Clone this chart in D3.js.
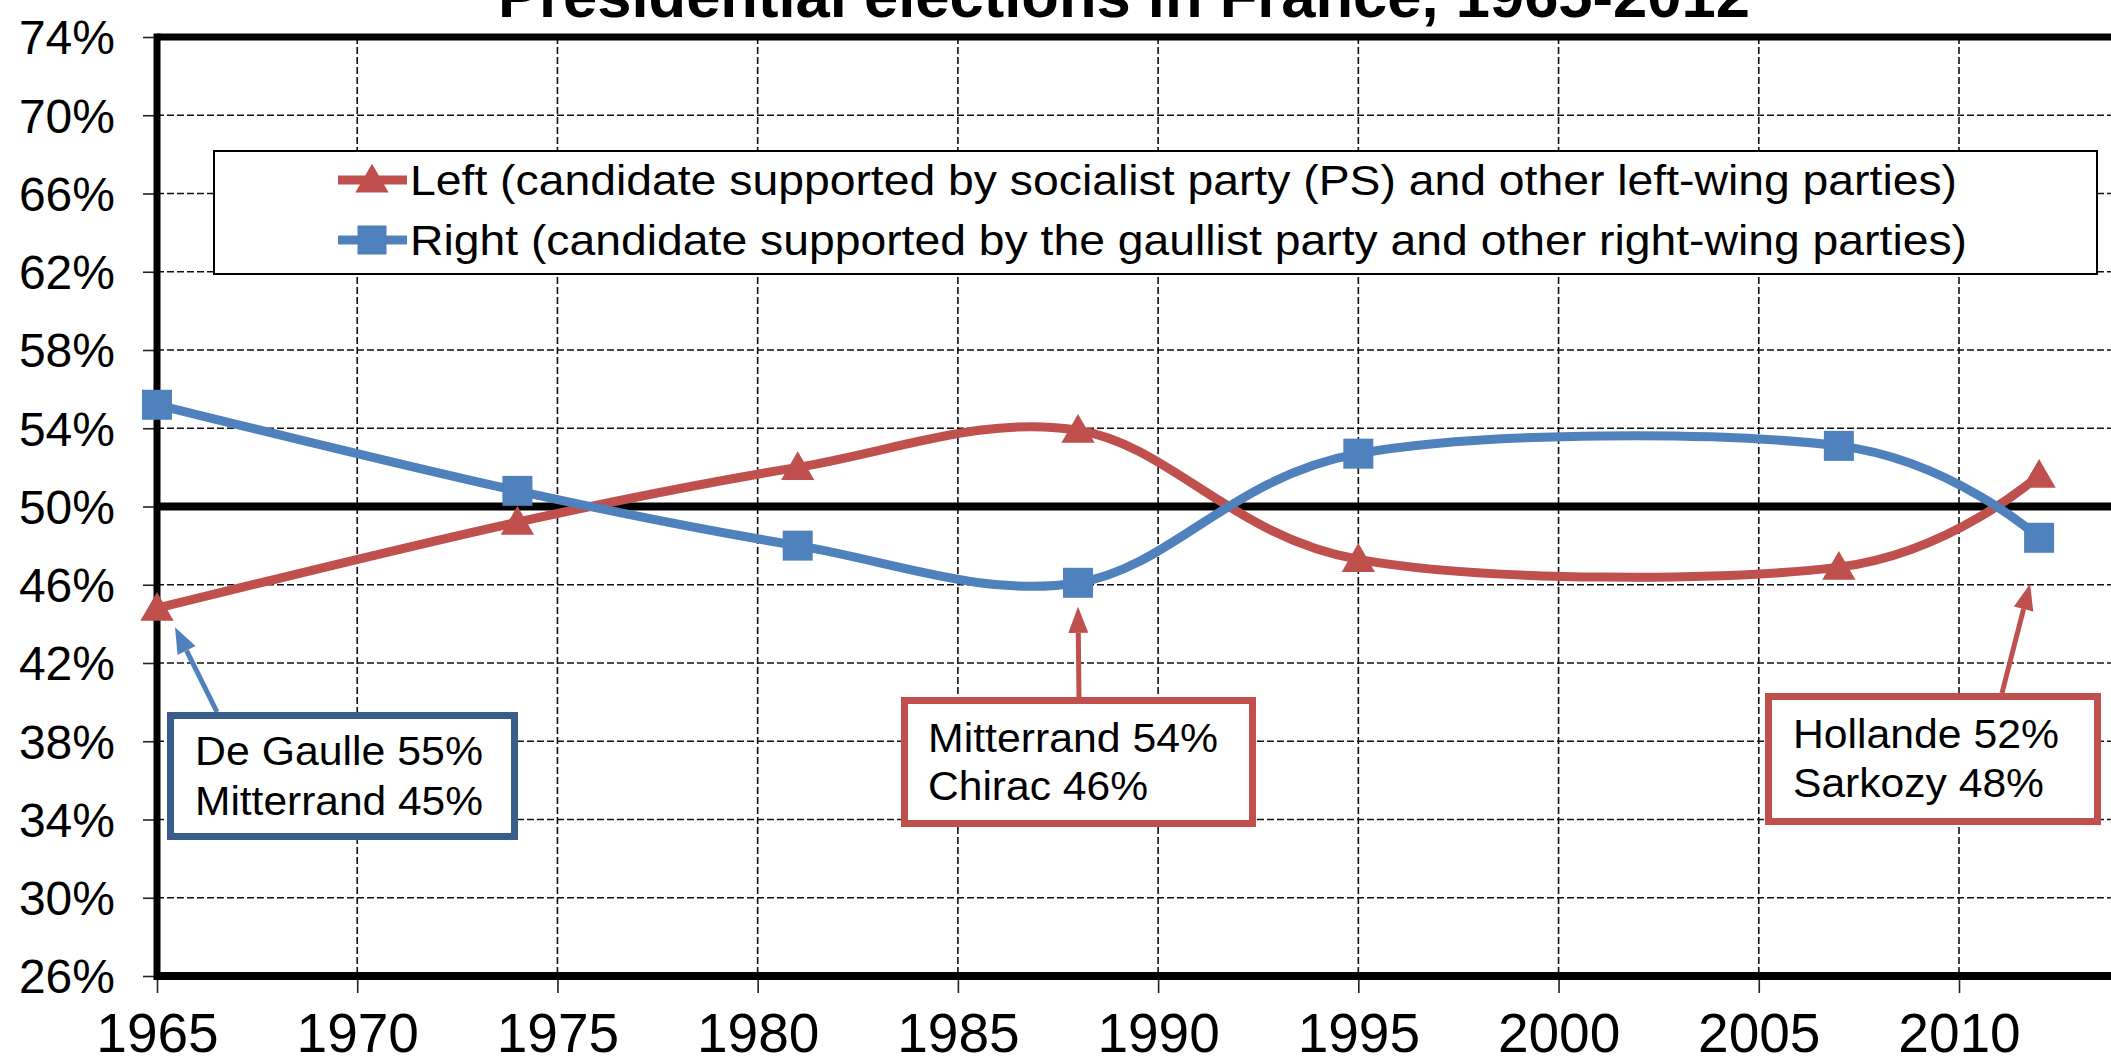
<!DOCTYPE html>
<html>
<head>
<meta charset="utf-8">
<script src="https://cdn.jsdelivr.net/npm/d3@7"></script>
<style>
  html, body { margin: 0; padding: 0; background: #fff; overflow: hidden; }
  svg { display: block; }
  text { font-family: "Liberation Sans", Arial, sans-serif; fill: #000; }
</style>
</head>
<body>
<script>
// ---------- data ----------
const years = [1965, 1974, 1981, 1988, 1995, 2007, 2012];
const leftShare = [44.8, 49.2, 52.0, 53.9, 47.3, 46.9, 51.6];
const rightShare = [55.2, 50.8, 48.0, 46.1, 52.7, 53.1, 48.4];
const seriesNames = [
  "Left (candidate supported by socialist party (PS) and other left-wing parties)",
  "Right (candidate supported by the gaullist party and other right-wing parties)"
];
const yTicks = [26, 30, 34, 38, 42, 46, 50, 54, 58, 62, 66, 70, 74];
const xTicks = [1965, 1970, 1975, 1980, 1985, 1990, 1995, 2000, 2005, 2010];
const titleText = "Presidential elections in France, 1965-2012";
const noteTexts = [
  ["De Gaulle 55%", "Mitterrand 45%"],
  ["Mitterrand 54%", "Chirac 46%"],
  ["Hollande 52%", "Sarkozy 48%"]
];
const noteYears = [1965, 1988, 2012];

// ---------- layout ----------
const W = 2111, H = 1064;
const RED = "#C0504D", BLUE = "#4F81BD", DARKBLUE = "#385D8A";

const svg = d3.select("body").append("svg").attr("width", W).attr("height", H);

const x = d3.scaleLinear().domain([1965, 2010]).range([157, 1959]);
const y = d3.scaleLinear().domain([26, 74]).range([976, 37]);

// grid
const grid = svg.append("g");
grid.selectAll(".hg").data(yTicks.filter(d => d !== 26 && d !== 74 && d !== 50)).join("line")
  .attr("x1", x(1965)).attr("x2", W)
  .attr("y1", d => y(d)).attr("y2", d => y(d))
  .attr("stroke", "#111").attr("stroke-width", 1.6).attr("stroke-dasharray", "7,3");
grid.selectAll(".vg").data(xTicks.filter(d => d !== 1965)).join("line")
  .attr("x1", d => x(d)).attr("x2", d => x(d))
  .attr("y1", y(74)).attr("y2", y(26))
  .attr("stroke", "#111").attr("stroke-width", 1.6).attr("stroke-dasharray", "7,3");

// axes (ticks + labels)
const yAxis = d3.axisLeft(y).tickValues(yTicks).tickSize(14).tickPadding(28).tickFormat(d => d + "%");
const gy = svg.append("g").attr("transform", `translate(${x(1965)},0)`).call(yAxis);
gy.select(".domain").remove();
gy.selectAll(".tick line").attr("stroke", "#222").attr("stroke-width", 1.6);
gy.selectAll(".tick text").attr("font-size", 48).attr("dy", "0.35em")
  .attr("font-family", '"Liberation Sans", Arial, sans-serif').attr("fill", "#000")
  .attr("x", -42);

const xAxis = d3.axisBottom(x).tickValues(xTicks).tickSize(17).tickPadding(0).tickFormat(d3.format("d"));
const gx = svg.append("g").attr("transform", `translate(0,${y(26)})`).call(xAxis);
gx.select(".domain").remove();
gx.selectAll(".tick line").attr("stroke", "#222").attr("stroke-width", 1.6);
gx.selectAll(".tick text").attr("font-size", 55).attr("dy", null).attr("y", 76)
  .attr("font-family", '"Liberation Sans", Arial, sans-serif').attr("fill", "#000");

// frame
svg.append("line").attr("x1", x(1965)).attr("x2", W).attr("y1", y(74)).attr("y2", y(74))
  .attr("stroke", "#000").attr("stroke-width", 7);
svg.append("line").attr("x1", x(1965)).attr("x2", W).attr("y1", y(26)).attr("y2", y(26))
  .attr("stroke", "#000").attr("stroke-width", 8);
svg.append("line").attr("x1", x(1965)).attr("x2", x(1965)).attr("y1", y(74) - 3.5).attr("y2", y(26) + 4)
  .attr("stroke", "#000").attr("stroke-width", 7);
svg.append("line").attr("x1", x(1965)).attr("x2", W).attr("y1", y(50)).attr("y2", y(50))
  .attr("stroke", "#000").attr("stroke-width", 8);

// title
svg.append("text").attr("x", 1124).attr("y", 17).attr("text-anchor", "middle")
  .attr("font-size", 61).attr("font-weight", "bold")
  .attr("textLength", 1252).attr("lengthAdjust", "spacingAndGlyphs")
  .text(titleText);

// legend
const lg = svg.append("g");
lg.append("rect").attr("x", 214).attr("y", 151).attr("width", 1883).attr("height", 123)
  .attr("fill", "#fff").attr("stroke", "#000").attr("stroke-width", 2);
const legendRows = [
  { name: seriesNames[0], color: RED, sym: d3.symbolTriangle, size: 480, base: 195, len: 1547 },
  { name: seriesNames[1], color: BLUE, sym: d3.symbolSquare, size: 841, base: 255, len: 1557 }
];
legendRows.forEach(r => {
  const cy = r.base - 15;
  lg.append("line").attr("x1", 338).attr("x2", 407).attr("y1", cy).attr("y2", cy)
    .attr("stroke", r.color).attr("stroke-width", 9);
  lg.append("path").attr("d", d3.symbol(r.sym, r.size)())
    .attr("transform", `translate(372,${cy + (r.sym === d3.symbolTriangle ? 3 : 0)})`).attr("fill", r.color);
  lg.append("text").attr("x", 410).attr("y", r.base).attr("font-size", 42)
    .attr("textLength", r.len).attr("lengthAdjust", "spacingAndGlyphs").text(r.name);
});

// series
const line = d3.line().x(d => x(d[0])).y(d => y(d[1])).curve(d3.curveCardinal.tension(0));
const series = [
  { vals: leftShare, color: RED, sym: d3.symbolTriangle, size: 480 },
  { vals: rightShare, color: BLUE, sym: d3.symbolSquare, size: 900 }
];
series.forEach(s => {
  const pts = years.map((yr, i) => [yr, s.vals[i]]);
  svg.append("path").attr("d", line(pts)).attr("fill", "none")
    .attr("stroke", s.color).attr("stroke-width", 9).attr("stroke-linejoin", "round");
  svg.selectAll(null).data(pts).join("path")
    .attr("d", d3.symbol(s.sym, s.size)())
    .attr("transform", d => `translate(${x(d[0])},${y(d[1]) + (s.sym === d3.symbolTriangle ? 3 : 0)})`)
    .attr("fill", s.color);
});

// annotations
function arrow(x1, y1, x2, y2, color) {
  const ang = Math.atan2(y2 - y1, x2 - x1);
  const L = 26, Wd = 10;
  const bx = x2 - L * Math.cos(ang), by = y2 - L * Math.sin(ang);
  svg.append("line").attr("x1", x1).attr("y1", y1).attr("x2", bx).attr("y2", by)
    .attr("stroke", color).attr("stroke-width", 5);
  const px = -Math.sin(ang) * Wd, py = Math.cos(ang) * Wd;
  svg.append("path").attr("d", `M${x2},${y2}L${bx + px},${by + py}L${bx - px},${by - py}Z`)
    .attr("fill", color);
}
const boxes = [
  { color: DARKBLUE, arrowColor: BLUE, rx: 170.5, ry: 715.5, rw: 344, rh: 121, tx: 195, b1: 765, b2: 815,
    lens: [288, 288], from: [217, 712], tipOff: [18, 19], val: leftShare[0] },
  { color: RED, arrowColor: RED, rx: 904.5, ry: 700.5, rw: 348, rh: 123, tx: 928, b1: 752, b2: 800,
    lens: [290, 220], from: [1079, 697], tipOff: [0, 24], val: rightShare[3] },
  { color: RED, arrowColor: RED, rx: 1768.5, ry: 696.5, rw: 329, rh: 125, tx: 1793, b1: 748, b2: 797,
    lens: [266, 251], from: [2002, 693], tipOff: [-9, 46], val: rightShare[6] }
];
boxes.forEach((b, i) => {
  const tipX = x(noteYears[i]) + b.tipOff[0], tipY = y(b.val) + b.tipOff[1];
  arrow(b.from[0], b.from[1], tipX, tipY, b.arrowColor);
  svg.append("rect").attr("x", b.rx).attr("y", b.ry).attr("width", b.rw).attr("height", b.rh)
    .attr("fill", "#fff").attr("stroke", b.color).attr("stroke-width", 7);
  svg.append("text").attr("x", b.tx).attr("y", b.b1).attr("font-size", 41)
    .attr("textLength", b.lens[0]).attr("lengthAdjust", "spacingAndGlyphs").text(noteTexts[i][0]);
  svg.append("text").attr("x", b.tx).attr("y", b.b2).attr("font-size", 41)
    .attr("textLength", b.lens[1]).attr("lengthAdjust", "spacingAndGlyphs").text(noteTexts[i][1]);
});
</script>
</body>
</html>
